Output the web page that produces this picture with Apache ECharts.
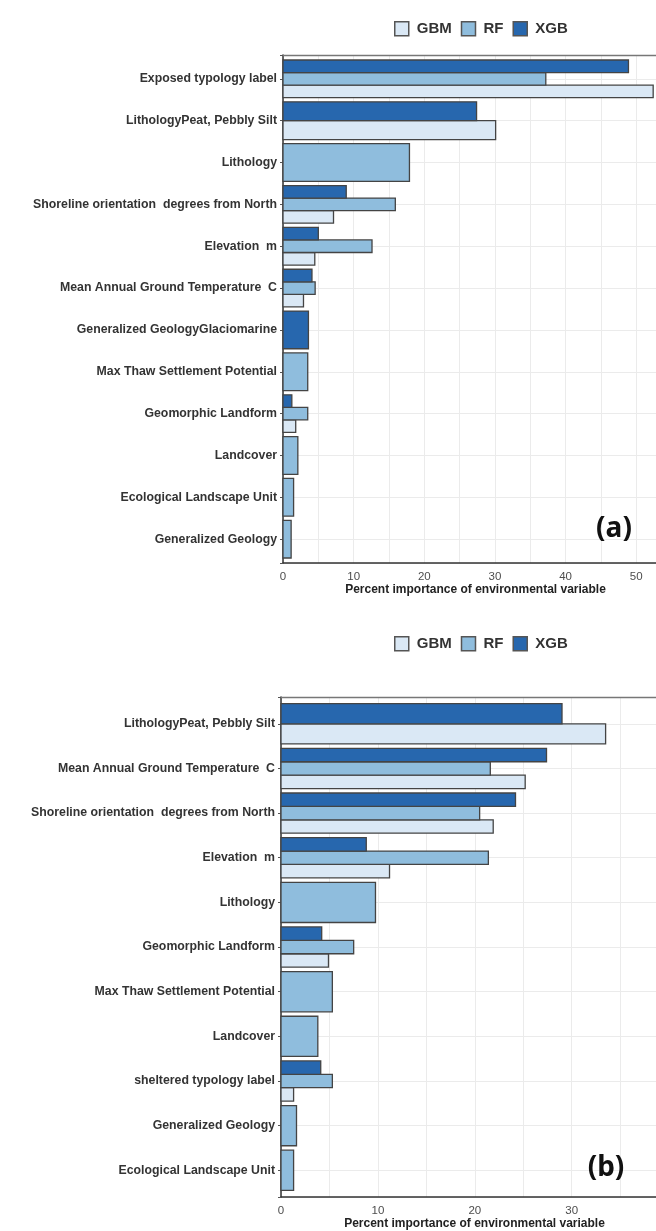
<!DOCTYPE html>
<html>
<head>
<meta charset="utf-8">
<script src="https://cdn.jsdelivr.net/npm/echarts@6/dist/echarts.min.js"></script>
<style>
  html, body { margin: 0; padding: 0; background: #ffffff; }
  #chart { width: 656px; height: 1231px; }
</style>
</head>
<body>
<div id="chart"></div>
<script>
// Models (legend order) and their fills
const modelNames = ['GBM', 'RF', 'XGB'];
const modelColors = { GBM: '#dae8f5', RF: '#8fbddd', XGB: '#2767ae' };

// Panel (a): exposed shorelines
const categoriesA = [
  'Exposed typology label',
  'LithologyPeat, Pebbly Silt',
  'Lithology',
  'Shoreline orientation  degrees from North',
  'Elevation  m',
  'Mean Annual Ground Temperature  C',
  'Generalized GeologyGlaciomarine',
  'Max Thaw Settlement Potential',
  'Geomorphic Landform',
  'Landcover',
  'Ecological Landscape Unit',
  'Generalized Geology'
];
const gbmA = [52.4, 30.1, null, 7.15, 4.5, 2.9, null, null, 1.8, null, null, null];
const rfA  = [37.2, null, 17.9, 15.9, 12.6, 4.55, null, 3.5, 3.5, 2.1, 1.5, 1.15];
const xgbA = [48.9, 27.4, null, 8.95, 5.0, 4.1, 3.6, null, 1.25, null, null, null];

// Panel (b): sheltered shorelines
const categoriesB = [
  'LithologyPeat, Pebbly Silt',
  'Mean Annual Ground Temperature  C',
  'Shoreline orientation  degrees from North',
  'Elevation  m',
  'Lithology',
  'Geomorphic Landform',
  'Max Thaw Settlement Potential',
  'Landcover',
  'sheltered typology label',
  'Generalized Geology',
  'Ecological Landscape Unit'
];
const gbmB = [33.5, 25.2, 21.9, 11.2, null, 4.9, null, null, 1.3, null, null];
const rfB  = [null, 21.6, 20.5, 21.4, 9.75, 7.5, 5.3, 3.8, 5.3, 1.6, 1.3];
const xgbB = [29.0, 27.4, 24.2, 8.8, null, 4.2, null, null, 4.1, null, null];

// X tick labels (every 10; gridlines every 5)
const xTickStep = 10;
const axisTitle = 'Percent importance of environmental variable';
const panelTags = ['(a)', '(b)'];

const chart = echarts.init(document.getElementById('chart'), null, { renderer: 'canvas' });

// Dodged bars: within each category the present models share 90% of the band,
// stacked top-to-bottom as XGB, RF, GBM.
function buildSeries(gridIndex, valuesByModel) {
  const topToBottom = ['XGB', 'RF', 'GBM'];
  const nCat = valuesByModel.GBM.length;
  return modelNames.map(name => {
    const data = [];
    for (let i = 0; i < nCat; i++) {
      const v = valuesByModel[name][i];
      if (v == null) continue;
      const present = topToBottom.filter(m => valuesByModel[m][i] != null);
      data.push([v, i, present.indexOf(name), present.length]);
    }
    const fill = modelColors[name];
    return {
      type: 'custom',
      name: name,
      xAxisIndex: gridIndex * 2,
      yAxisIndex: gridIndex,
      dimensions: ['value', 'cat', 'slot', 'count'],
      encode: { x: 'value', y: 'cat' },
      itemStyle: { color: fill, borderColor: '#444', borderWidth: 1.3 },
      renderItem: function (params, api) {
        const v = api.value(0), i = api.value(1), slot = api.value(2), n = api.value(3);
        const unit = api.size([0, 1])[1];
        const groupH = unit * 0.9;
        const h = groupH / n;
        const p0 = api.coord([0, i]);
        const p1 = api.coord([v, i]);
        return {
          type: 'rect',
          shape: { x: p0[0], y: p0[1] - groupH / 2 + slot * h, width: p1[0] - p0[0], height: h },
          style: { fill: fill, stroke: '#444', lineWidth: 1.3 }
        };
      },
      data: data
    };
  });
}

function yAxisFor(gridIndex, cats, lo, hi) {
  return {
    type: 'value', gridIndex: gridIndex, inverse: true,
    min: lo, max: hi, minInterval: 1, maxInterval: 1,
    axisLine: { show: true, onZero: false, lineStyle: { color: '#333', width: 1.5 } },
    axisTick: { show: true, length: 3, lineStyle: { color: '#555' } },
    splitLine: { show: true, lineStyle: { color: '#ebebeb', width: 1 } },
    axisLabel: {
      margin: 6, color: '#333', fontFamily: 'Liberation Sans', fontWeight: 'bold', fontSize: 12.3,
      formatter: v => {
        const r = Math.round(v);
        return (Math.abs(v - r) < 1e-6 && r >= 0 && r < cats.length) ? cats[r] : '';
      }
    }
  };
}

// Bottom value axis with labels and title
function xAxisFor(gridIndex, hi) {
  return {
    type: 'value', gridIndex: gridIndex, position: 'bottom', min: 0, max: hi, interval: 5,
    name: axisTitle, nameLocation: 'middle', nameGap: 20,
    nameTextStyle: { color: '#222', fontFamily: 'Liberation Sans', fontWeight: 'bold', fontSize: 12, padding: [0, 0, 0, 12] },
    axisLine: { show: true, onZero: false, lineStyle: { color: '#333', width: 1.5 } },
    axisTick: { show: false },
    splitLine: { show: true, lineStyle: { color: '#ebebeb', width: 1 } },
    axisLabel: {
      margin: 8, color: '#4d4d4d', fontFamily: 'Liberation Sans', fontSize: 11.5,
      showMaxLabel: false,
      formatter: v => (Math.abs(v % xTickStep) < 1e-6 ? String(v) : '')
    }
  };
}

// Top edge of the panel frame
function frameAxisFor(gridIndex, hi) {
  return {
    type: 'value', gridIndex: gridIndex, position: 'top', min: 0, max: hi,
    axisLine: { show: true, onZero: false, lineStyle: { color: '#777', width: 1.3 } },
    axisTick: { show: false }, axisLabel: { show: false }, splitLine: { show: false }
  };
}

function legendFor(top) {
  return {
    top: top, left: 389, orient: 'horizontal',
    data: modelNames, icon: 'rect', itemWidth: 14, itemHeight: 14, itemGap: 9,
    selectedMode: false,
    itemStyle: { borderColor: '#555', borderWidth: 1.5 },
    textStyle: { color: '#333', fontFamily: 'Liberation Sans', fontWeight: 'bold', fontSize: 15, padding: [0, 0, 0, 3] }
  };
}

const maxA = 52.8;
const maxB = 38.7;

const option = {
  backgroundColor: '#ffffff',
  animation: false,
  legend: [legendFor(16), legendFor(631)],
  grid: [
    { left: 283, top: 55, right: 0, height: 508, show: false, containLabel: false },
    { left: 281, top: 697, right: 0, height: 509, show: false, containLabel: false }
  ],
  xAxis: [xAxisFor(0, maxA), frameAxisFor(0, maxA), xAxisFor(1, maxB), frameAxisFor(1, maxB)],
  yAxis: [
    yAxisFor(0, categoriesA, -0.57, 11.57),
    yAxisFor(1, categoriesB, -0.6, 10.6)
  ],
  series: [
    ...buildSeries(0, { GBM: gbmA, RF: rfA, XGB: xgbA }),
    ...buildSeries(1, { GBM: gbmB, RF: rfB, XGB: xgbB })
  ],
  graphic: [
    { type: 'text', x: 614, y: 529, z: 100,
      style: { text: panelTags[0], fill: '#111', font: 'bold 28px "Noto Sans"', align: 'center', verticalAlign: 'middle' } },
    { type: 'text', x: 606, y: 1168, z: 100,
      style: { text: panelTags[1], fill: '#111', font: 'bold 28px "Noto Sans"', align: 'center', verticalAlign: 'middle' } }
  ]
};

chart.setOption(option);
</script>
</body>
</html>
